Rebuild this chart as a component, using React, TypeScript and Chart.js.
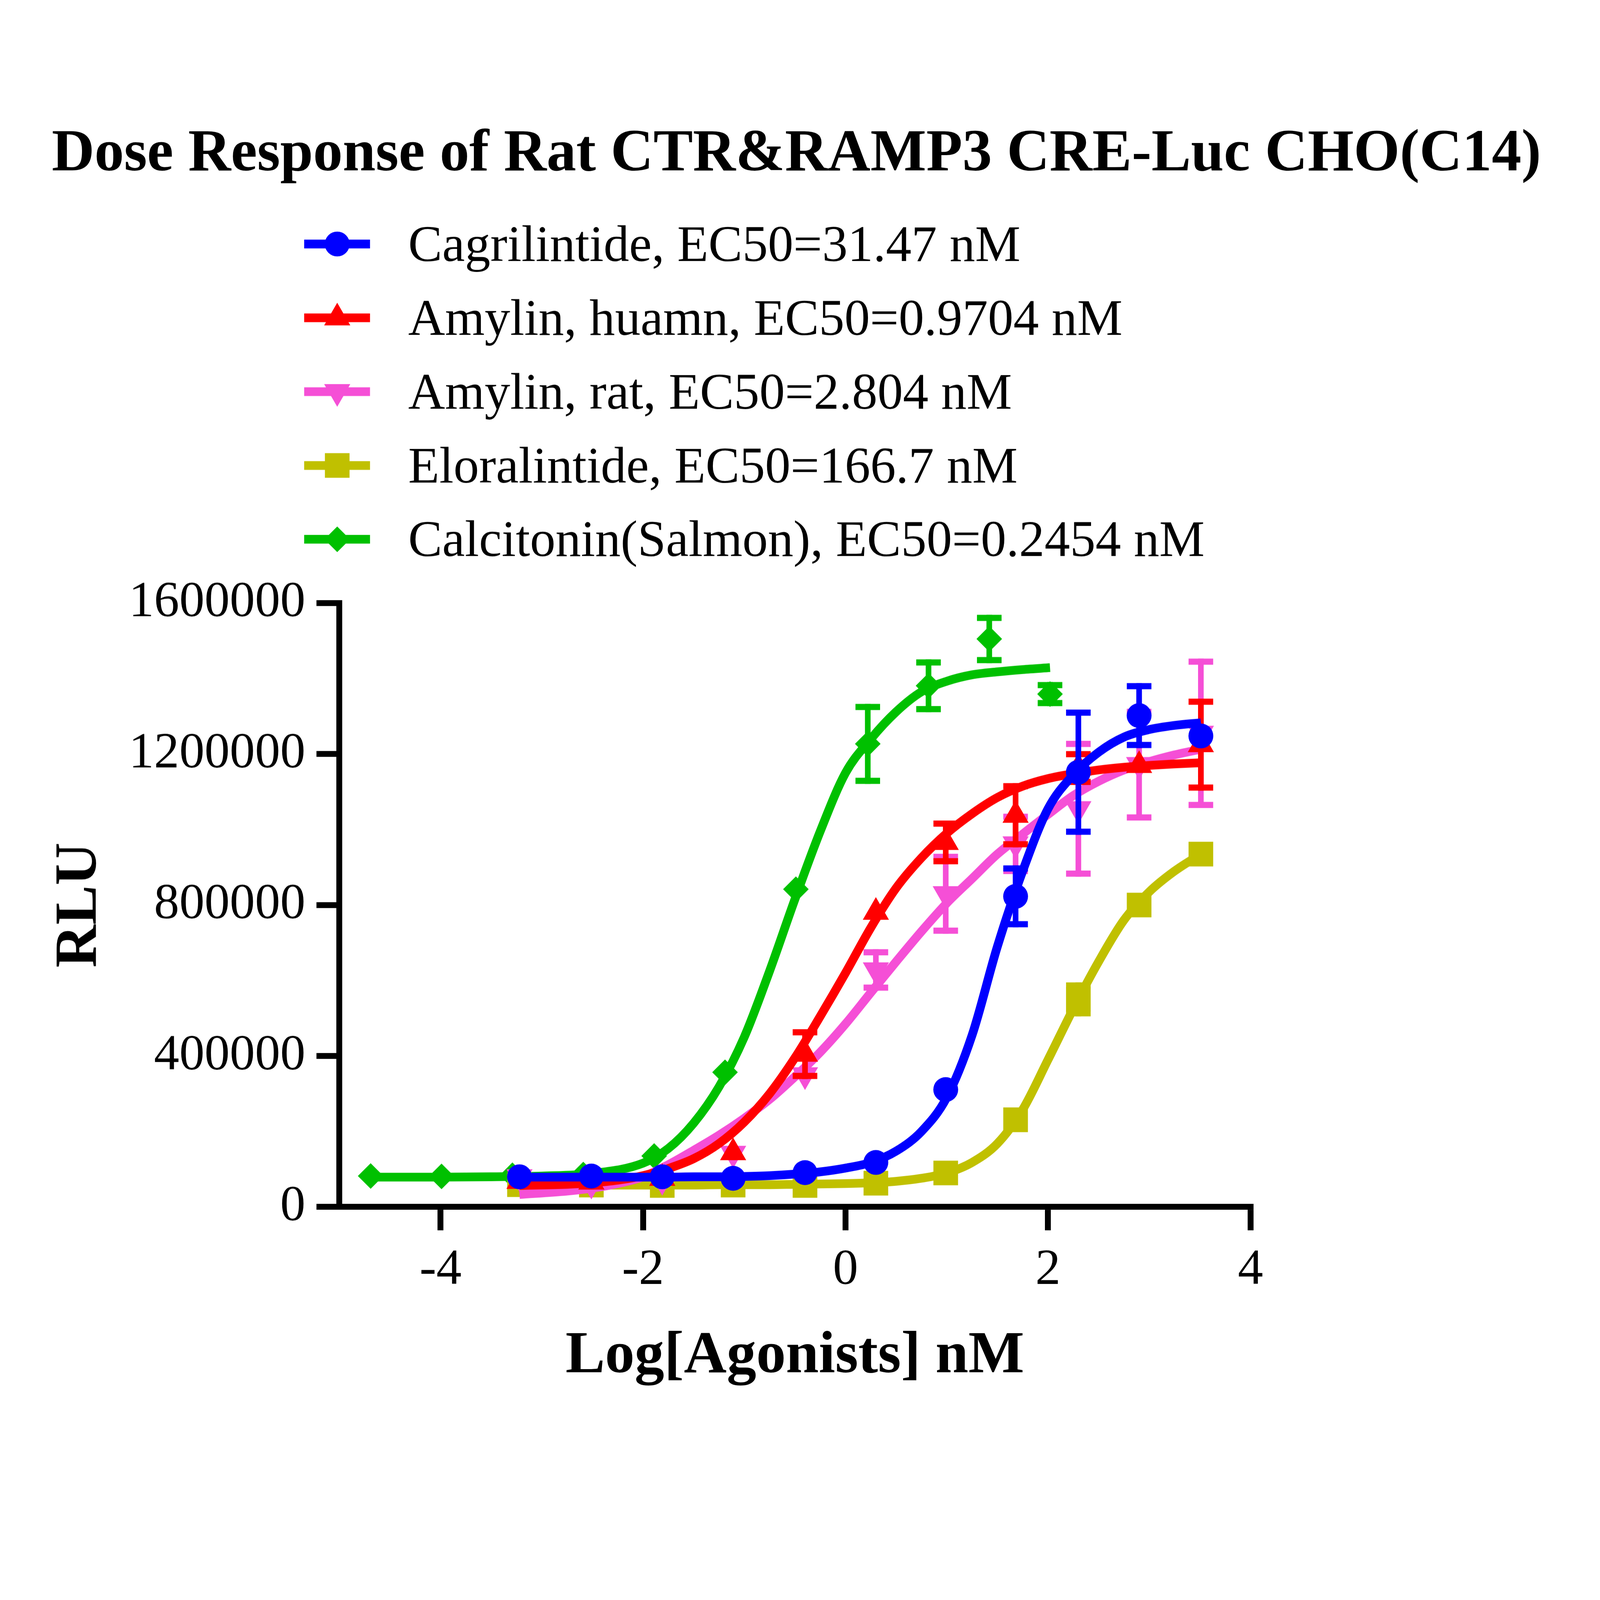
import { useEffect, useRef } from "react"
import { Chart, registerables } from "chart.js"
import { drawPoint } from "chart.js/helpers"

Chart.register(...registerables)

// measured doses (log nM)
const logDose = [-3.22, -2.51, -1.81, -1.11, -0.4, 0.3, 0.99, 1.68, 2.3, 2.9, 3.51]
const logDoseSalmon = [-4.69, -3.99, -3.29, -2.59, -1.89, -1.19, -0.49, 0.22, 0.82, 1.42, 2.02]

// mean RLU and SEM
const cagriMean = [80000, 82000, 80000, 76000, 91000, 118000, 311000, 823000, 1152000, 1302000, 1248000]
const cagriSem = [0, 0, 0, 0, 0, 0, 0, 82000, 166000, 86000, 0]
const amylinHumanMean = [68000, 66000, 76000, 144000, 405000, 781000, 966000, 1038000, 1163000, 1170000, 1225000]
const amylinHumanSem = [0, 0, 0, 0, 66000, 0, 58000, 85000, 45000, 0, 122000]
const amylinRatMean = [80000, 60000, 70000, 142000, 350000, 628000, 830000, 962000, 1055000, 1172000, 1255000]
const amylinRatSem = [0, 0, 0, 0, 0, 55000, 106000, 80000, 180000, 148000, 198000]
const eloraMean = [59000, 58000, 57000, 58000, 57000, 63000, 90000, 231000, 550000, 800000, 935000]
const eloraSem = [0, 0, 0, 0, 0, 0, 0, 0, 45000, 0, 0]
const salmonMean = [82000, 81000, 84000, 86000, 135000, 357000, 842000, 1227000, 1381000, 1505000, 1359000]
const salmonSem = [0, 0, 0, 0, 0, 0, 0, 106000, 70000, 64000, 32000]

// fitted curves
const fitX = [-3.22, -2.75, -2.5, -2.25, -2, -1.75, -1.5, -1.25, -1, -0.75, -0.5, -0.25, 0, 0.25, 0.5, 0.75, 1, 1.25, 1.5, 1.75, 2, 2.25, 2.5, 2.75, 3, 3.25, 3.51]
const cagriFit = [79000, 79000, 79000, 79000, 79000, 79000, 80000, 80000, 81000, 83000, 87000, 93000, 103000, 118000, 148000, 200000, 290000, 455000, 690000, 890000, 1055000, 1145000, 1205000, 1245000, 1265000, 1276000, 1283000]
const amylinHumanFit = [57000, 60000, 64000, 71000, 83000, 102000, 128000, 168000, 225000, 300000, 395000, 505000, 620000, 740000, 845000, 925000, 990000, 1042000, 1085000, 1115000, 1135000, 1148000, 1158000, 1165000, 1170000, 1174000, 1177000]
const amylinRatFit = [33000, 42000, 50000, 62000, 80000, 112000, 150000, 190000, 235000, 285000, 345000, 410000, 485000, 568000, 650000, 730000, 805000, 870000, 935000, 988000, 1040000, 1090000, 1128000, 1158000, 1180000, 1198000, 1213000]
const eloraFit = [58000, 58000, 58000, 58000, 58000, 58000, 58000, 59000, 59000, 59000, 60000, 61000, 62000, 64000, 68000, 76000, 90000, 118000, 168000, 258000, 390000, 525000, 650000, 760000, 835000, 890000, 935000]
const salmonFitX = [-4.69, -4, -3.5, -3, -2.5, -2, -1.75, -1.5, -1.25, -1, -0.75, -0.5, -0.25, 0, 0.25, 0.5, 0.75, 1, 1.25, 1.5, 1.75, 2.02]
const salmonFit = [79000, 79000, 80000, 82000, 89000, 116000, 155000, 222000, 318000, 450000, 625000, 815000, 995000, 1150000, 1240000, 1312000, 1365000, 1393000, 1410000, 1418000, 1424000, 1429000]

const seriesNames = [
  "Cagrilintide, EC50=31.47 nM",
  "Amylin, huamn, EC50=0.9704 nM",
  "Amylin, rat, EC50=2.804 nM",
  "Eloralintide, EC50=166.7 nM",
  "Calcitonin(Salmon), EC50=0.2454 nM",
]
const seriesColors = ["#0000ff", "#ff0000", "#f54fd6", "#c0c000", "#00c000"]

const xTicks = [-4, -2, 0, 2, 4]
const yTicks = [0, 400000, 800000, 1200000, 1600000]

const FONT = "'Liberation Serif', 'Times New Roman', serif"

// layout is worked out on the 6244 x 5800 reference grid and scaled to the page
const REF_W = 6244
const REF_H = 5800

// symbol settings in reference pixels
const symbols = [
  { pointStyle: "circle", radius: 48.5, rotation: 0 },
  { pointStyle: "triangle", radius: 59, rotation: 0 },
  { pointStyle: "triangle", radius: 59, rotation: 180 },
  { pointStyle: "rect", radius: 68, rotation: 0 },
  { pointStyle: "rectRot", radius: 50, rotation: 0 },
]

const errorBars = {
  id: "errorBars",
  beforeDatasetDraw(chart: any, args: any, opts: any) {
    const ds = chart.data.datasets[args.index]
    if (!ds.sem) return
    const k = opts.k
    const { ctx } = chart
    const y = chart.scales.y
    ctx.save()
    ctx.strokeStyle = ds.borderColor
    ctx.lineCap = "butt"
    args.meta.data.forEach((pt: any, i: number) => {
      const err = ds.sem[i]
      if (!err) return
      const v = ds.data[i].y
      const top = y.getPixelForValue(v + err)
      const bot = y.getPixelForValue(v - err)
      const half = 48 * k
      const inset = 12 * k
      ctx.lineWidth = 22 * k
      ctx.beginPath()
      ctx.moveTo(pt.x, top)
      ctx.lineTo(pt.x, bot)
      ctx.stroke()
      ctx.lineWidth = 24 * k
      ctx.beginPath()
      ctx.moveTo(pt.x - half, top + inset)
      ctx.lineTo(pt.x + half, top + inset)
      ctx.moveTo(pt.x - half, bot - inset)
      ctx.lineTo(pt.x + half, bot - inset)
      ctx.stroke()
    })
    ctx.restore()
  },
}

const decorations = {
  id: "decorations",
  afterDraw(chart: any, _args: any, opts: any) {
    const k = opts.k
    const { ctx, chartArea } = chart
    ctx.save()
    ctx.fillStyle = "#000"
    ctx.textAlign = "center"
    ctx.textBaseline = "alphabetic"
    ctx.font = `bold ${231 * k}px ${FONT}`
    ctx.fillText("Dose Response of Rat CTR&RAMP3 CRE-Luc CHO(C14)", 3108 * k, 664 * k)

    // legend
    seriesNames.forEach((name, i) => {
      const cy = 952 * k + i * 288 * k
      ctx.strokeStyle = seriesColors[i]
      ctx.lineWidth = 34 * k
      ctx.beginPath()
      ctx.moveTo(1187 * k, cy)
      ctx.lineTo(1444 * k, cy)
      ctx.stroke()
      ctx.fillStyle = seriesColors[i]
      const sym = symbols[i]
      drawPoint(ctx, { pointStyle: sym.pointStyle, radius: sym.radius * k, rotation: sym.rotation, borderWidth: 0 } as any, 1316 * k, cy)
      ctx.fillStyle = "#000"
      ctx.textAlign = "left"
      ctx.font = `${199 * k}px ${FONT}`
      ctx.fillText(name, 1593 * k, cy + 66 * k)
    })

    // axis titles
    ctx.font = `bold ${231 * k}px ${FONT}`
    ctx.textAlign = "center"
    ctx.fillText("Log[Agonists] nM", (chartArea.left + chartArea.right) / 2, 5353 * k)
    ctx.translate(314 * k, (chartArea.top + chartArea.bottom) / 2)
    ctx.rotate(-Math.PI / 2)
    ctx.textBaseline = "middle"
    ctx.fillText("RLU", 0, 0)
    ctx.restore()
  },
}

const pts = (xs: number[], ys: number[]) => xs.map((x, i) => ({ x, y: ys[i] }))

export default function App() {
  const canvasRef = useRef<HTMLCanvasElement>(null)
  const boxRef = useRef<HTMLDivElement>(null)

  useEffect(() => {
    if (!canvasRef.current || !boxRef.current) return
    const k = boxRef.current.clientWidth / REF_W

    const means = [cagriMean, amylinHumanMean, amylinRatMean, eloraMean, salmonMean]
    const sems = [cagriSem, amylinHumanSem, amylinRatSem, eloraSem, salmonSem]
    const fits = [cagriFit, amylinHumanFit, amylinRatFit, eloraFit, salmonFit]

    // dataset 0 is drawn on top, so blue comes first
    const datasets: any[] = []
    seriesNames.forEach((name, i) => {
      const xs = i === 4 ? logDoseSalmon : logDose
      const fx = i === 4 ? salmonFitX : fitX
      datasets.push({
        label: name,
        data: pts(xs, means[i]),
        sem: sems[i],
        showLine: false,
        borderColor: seriesColors[i],
        backgroundColor: seriesColors[i],
        pointStyle: symbols[i].pointStyle,
        pointRotation: symbols[i].rotation,
        pointRadius: symbols[i].radius * k,
        pointBorderWidth: 0,
        clip: false,
      })
      datasets.push({
        label: name + " fit",
        data: pts(fx, fits[i]),
        showLine: true,
        borderColor: seriesColors[i],
        borderWidth: 34 * k,
        pointRadius: 0,
        tension: 0.4,
        cubicInterpolationMode: "monotone",
        clip: false,
      })
    })

    const tickFont = { family: FONT, size: 197 * k }
    const chart = new Chart(canvasRef.current, {
      type: "scatter",
      data: { datasets },
      options: {
        animation: false,
        responsive: true,
        maintainAspectRatio: false,
        layout: { padding: { left: 324 * k, right: 1364 * k, top: 2353 * k, bottom: 491 * k } },
        plugins: {
          legend: { display: false },
          tooltip: { enabled: false },
          errorBars: { k },
          decorations: { k },
        },
        scales: {
          x: {
            type: "linear",
            min: -5,
            max: 4,
            afterFit: (s: any) => {
              s.height = 600 * k
            },
            afterBuildTicks: (s: any) => {
              s.ticks = xTicks.map((value) => ({ value }))
            },
            ticks: { font: tickFont, color: "#000", padding: 39 * k, maxRotation: 0 },
            grid: { drawOnChartArea: false, drawTicks: true, tickLength: 91 * k, tickWidth: 23 * k, lineWidth: 23 * k, tickColor: "#000" },
            border: { display: true, width: 23 * k, color: "#000" },
          },
          y: {
            type: "linear",
            min: 0,
            max: 1600000,
            afterFit: (s: any) => {
              s.width = 1000 * k
            },
            afterBuildTicks: (s: any) => {
              s.ticks = yTicks.map((value) => ({ value }))
            },
            ticks: { font: tickFont, color: "#000", padding: 43 * k, callback: (v: any) => String(v) },
            grid: { drawOnChartArea: false, drawTicks: true, tickLength: 89 * k, tickWidth: 23 * k, lineWidth: 23 * k, tickColor: "#000" },
            border: { display: true, width: 23 * k, color: "#000" },
          },
        },
      },
      plugins: [errorBars, decorations],
    } as any)

    return () => {
      chart.destroy()
    }
  }, [])

  return (
    <div
      ref={boxRef}
      style={{ position: "fixed", left: 0, top: 0, width: "100vw", height: `calc(100vw * ${REF_H / REF_W})`, background: "#fff" }}
    >
      <canvas ref={canvasRef}></canvas>
    </div>
  )
}
